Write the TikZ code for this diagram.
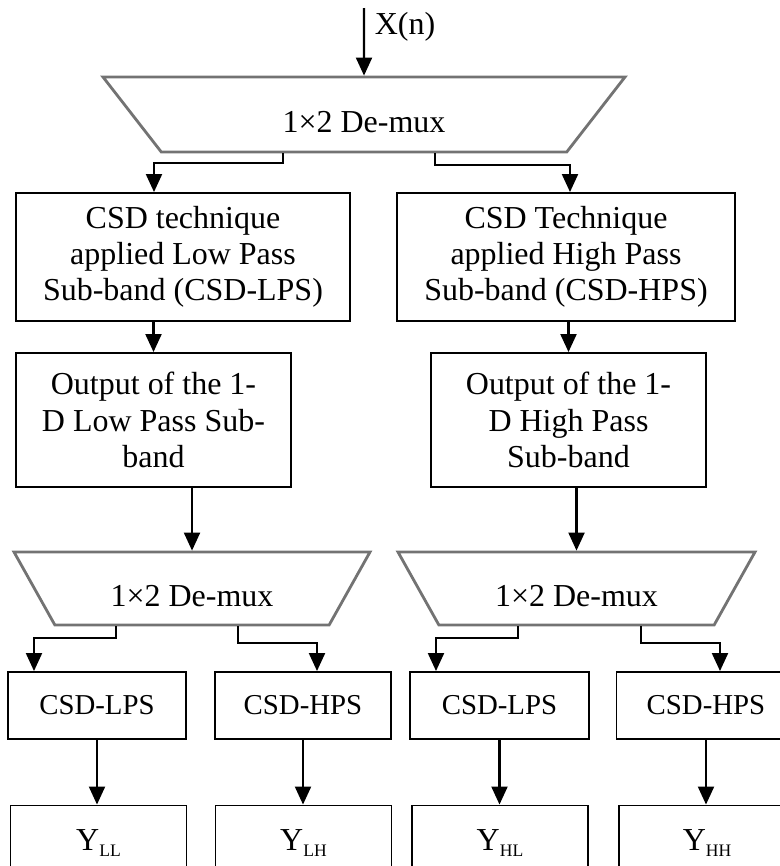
\documentclass[tikz,border=0pt]{standalone}
\usepackage{fontspec}
\setmainfont{Liberation Serif}
\usetikzlibrary{shapes.geometric,arrows.meta,positioning}

\newcommand{\lowsub}[1]{\raisebox{-0.17em}{\fontsize{5}{6}\selectfont #1}}

\begin{document}
\begin{tikzpicture}[x=1cm,y=-1cm,
    blk/.style={draw, line width=0.55pt, align=center, inner sep=0pt,
        font=\fontsize{9.1}{10.3}\selectfont},
    smallblk/.style={blk, minimum height=0.67cm, font=\fontsize{8.2}{9.5}\selectfont},
    dmx/.style={trapezium, trapezium stretches body, draw=black!55, line width=0.8pt,
        inner sep=1pt, text height=0.35cm, text depth=0pt,
        font=\fontsize{9.1}{10.3}\selectfont},
    arr/.style={-{Triangle[length=0.18cm,width=0.16cm]}, line width=0.6pt}]

    \useasboundingbox (0,0) rectangle (7.8,8.66);

    % input and first de-mux
    \coordinate (xin) at (3.64,0.08);
    \node[font=\fontsize{9.1}{10.3}\selectfont] (xlab) at (4.05,0.27) {X(n)};
    \node[dmx, trapezium angle=144.2, minimum width=5.22cm, minimum height=0.75cm]
        (dm0) at (3.64,1.145) {1×2 De-mux};

    % CSD blocks
    \node[blk, minimum width=3.34cm, minimum height=1.28cm] (b1l) at (1.83,2.57)
        {CSD technique\\applied Low Pass\\Sub-band (CSD-LPS)};
    \node[blk, minimum width=3.38cm, minimum height=1.28cm] (b1r) at (5.66,2.57)
        {CSD Technique\\applied High Pass\\Sub-band (CSD-HPS)};

    \node[blk, minimum width=2.75cm, minimum height=1.34cm] (b2l) at (1.535,4.20)
        {Output of the 1-\\D Low Pass Sub-\\band};
    \node[blk, minimum width=2.75cm, minimum height=1.34cm] (b2r) at (5.685,4.20)
        {Output of the 1-\\D High Pass\\Sub-band};

    % second level de-mux
    \node[dmx, trapezium angle=134.2, minimum width=3.56cm, minimum height=0.73cm]
        (dm1) at (1.92,5.885) {1×2 De-mux};
    \node[dmx, trapezium angle=134.2, minimum width=3.57cm, minimum height=0.73cm]
        (dm2) at (5.765,5.885) {1×2 De-mux};

    \foreach \n/\x/\w/\t in {a/0.97/1.78/LPS, b/3.03/1.76/HPS, c/4.995/1.79/LPS, d/7.06/1.79/HPS}{
        \node[smallblk, minimum width=\w cm] (c\n) at (\x,7.055) {CSD-\t};
    }

    \foreach \n/\x/\s in {a/0.985/LL, b/3.035/LH, c/5.00/HL, d/7.07/HH}{
        \node[blk, minimum width=1.76cm, minimum height=0.75cm] (y\n) at (\x,8.43) {Y\lowsub{\s}};
    }

    % connectors
    \draw[arr] (xin) -- (dm0.north);

    \draw[arr] ([xshift=-0.81cm]dm0.south) -- ++(0,0.10) -| ([xshift=-0.29cm]b1l.north);
    \draw[arr] ([xshift=0.71cm]dm0.south) -- ++(0,0.12) -| ([xshift=0.04cm]b1r.north);

    \draw[arr] (b2l.north |- b1l.south) -- (b2l.north);
    \draw[arr] (b2r.north |- b1r.south) -- (b2r.north);

    \draw[arr] (dm1.north |- b2l.south) -- (dm1.north);
    \draw[arr] (dm2.north |- b2r.south) -- (dm2.north);

    \draw[arr] ([xshift=-0.76cm]dm1.south) -- ++(0,0.12) -| ([xshift=-0.63cm]ca.north);
    \draw[arr] ([xshift=0.46cm]dm1.south) -- ++(0,0.17) -| ([xshift=0.14cm]cb.north);
    \draw[arr] ([xshift=-0.585cm]dm2.south) -- ++(0,0.12) -| ([xshift=-0.635cm]cc.north);
    \draw[arr] ([xshift=0.645cm]dm2.south) -- ++(0,0.17) -| ([xshift=0.14cm]cd.north);

    \foreach \n in {a,b,c,d}{
        \draw[arr] (c\n.south) -- (c\n.south |- y\n.north);
    }

\end{tikzpicture}
\end{document}
